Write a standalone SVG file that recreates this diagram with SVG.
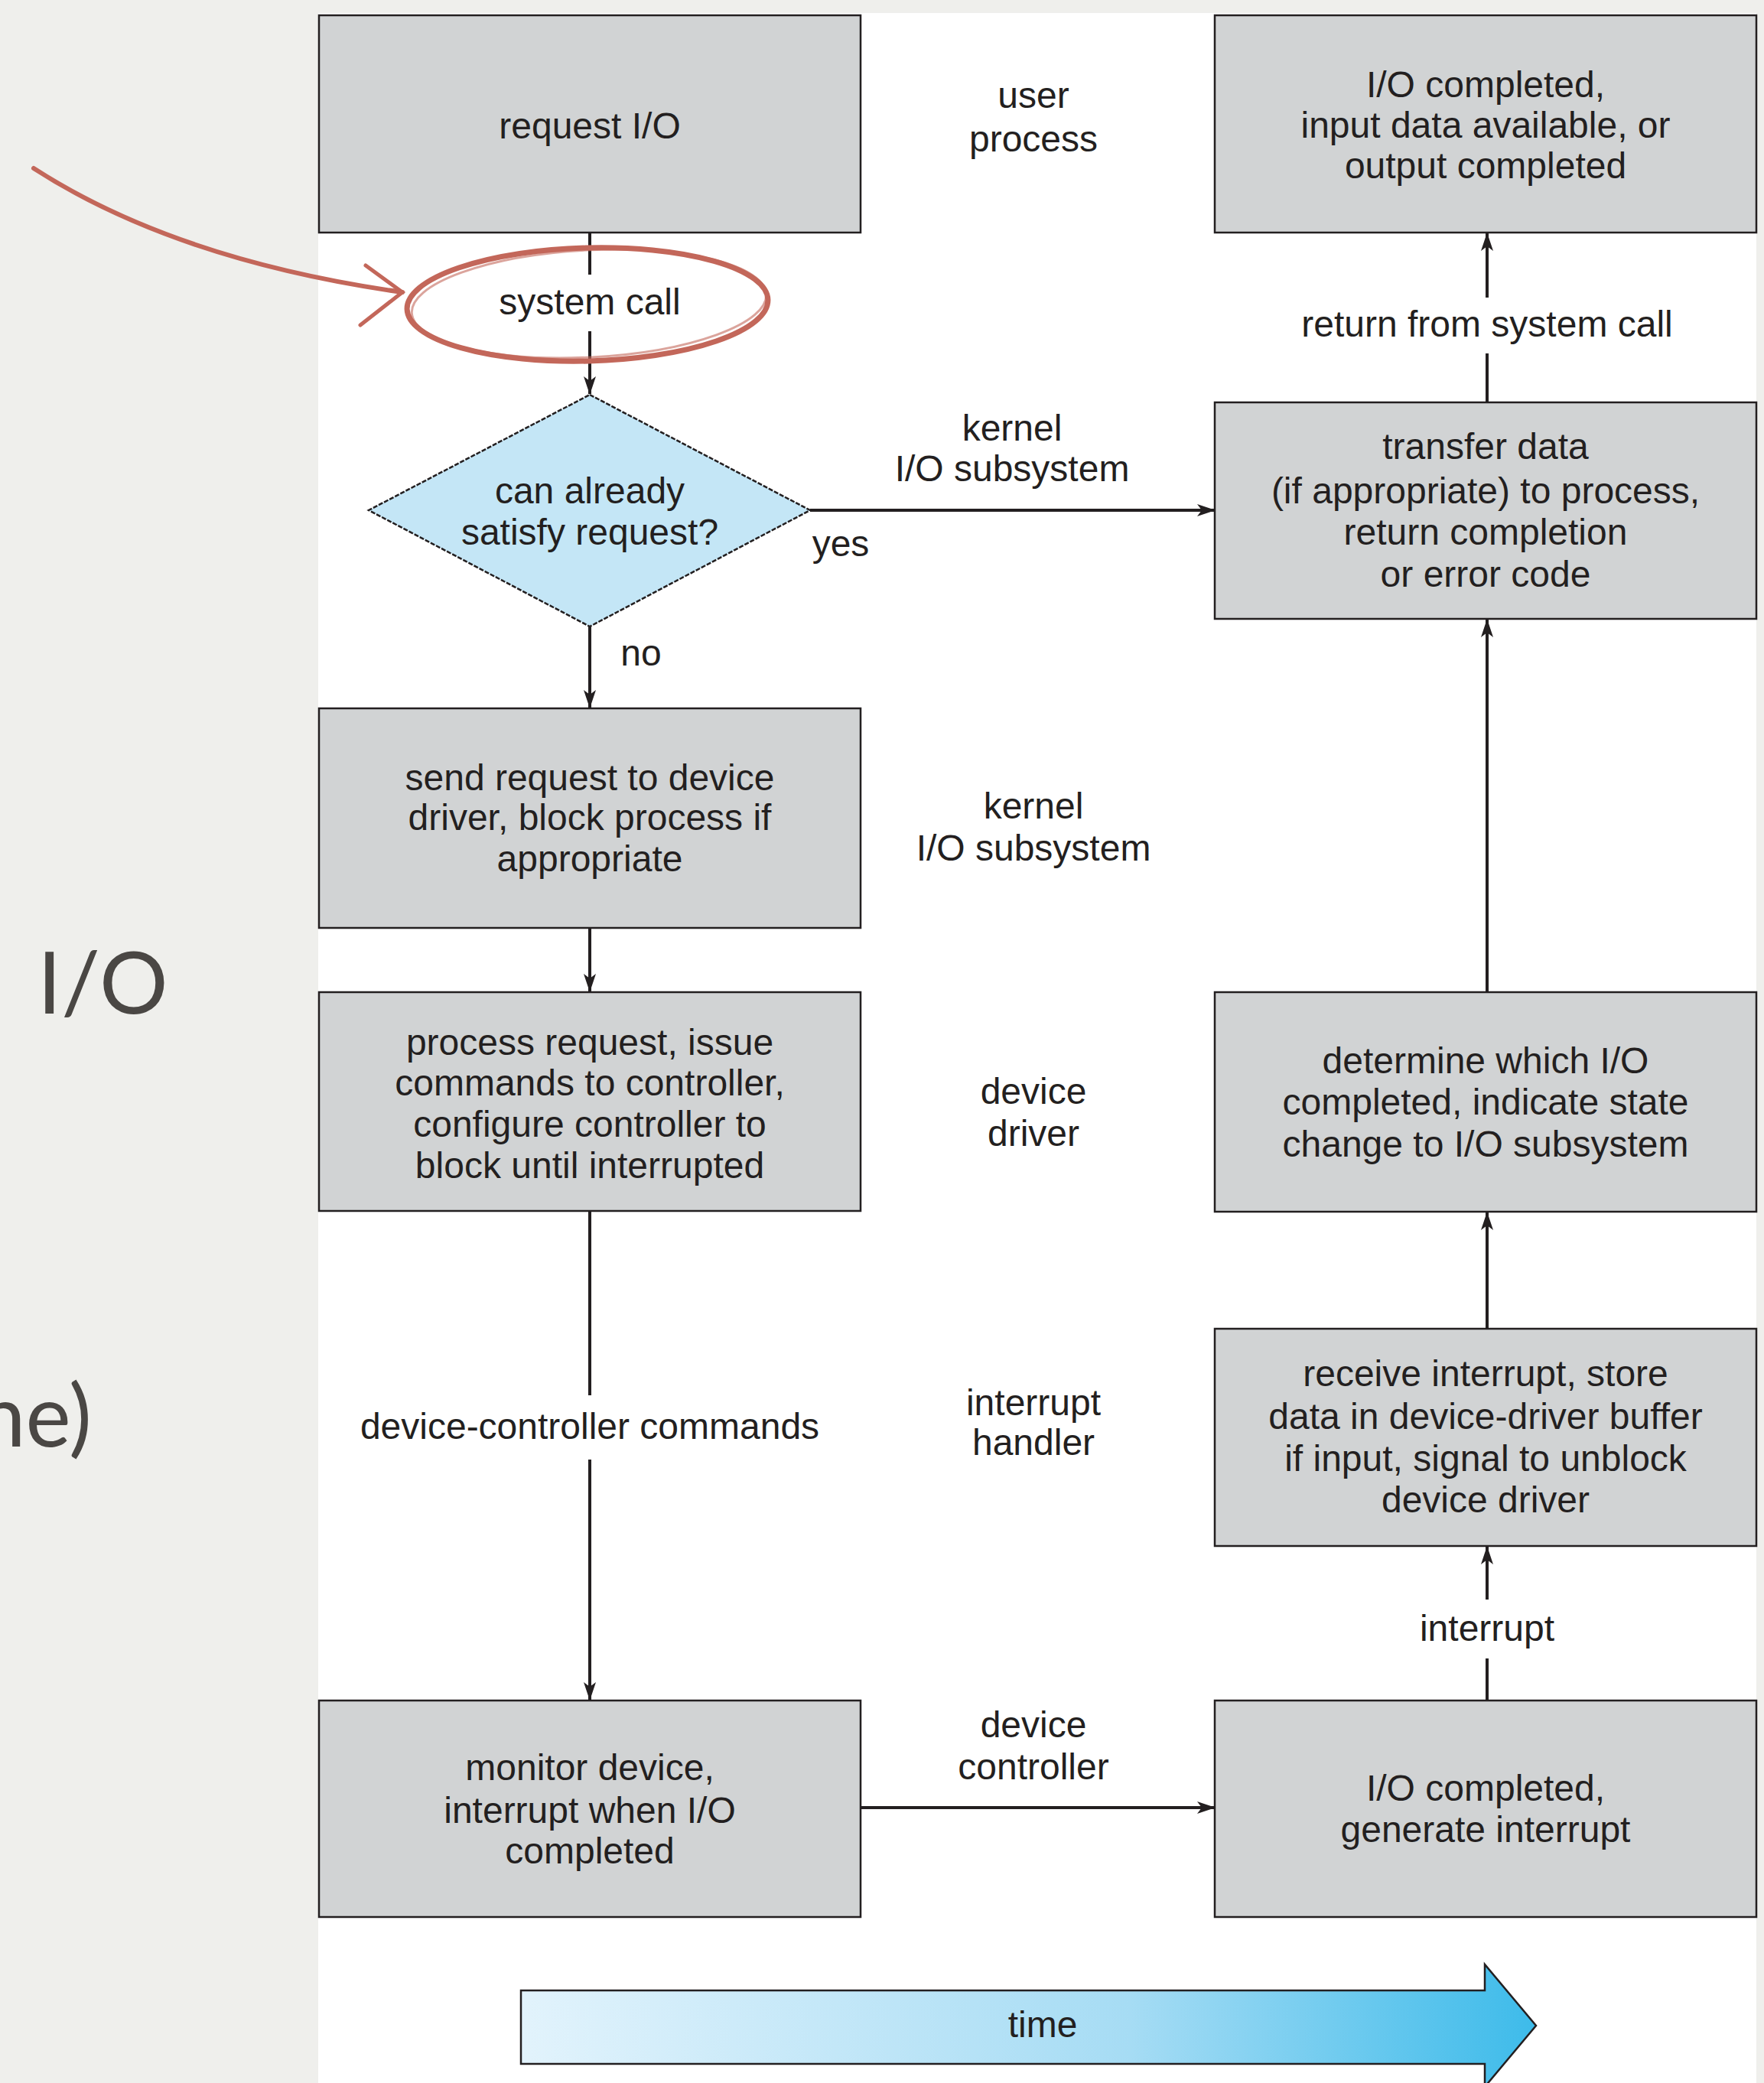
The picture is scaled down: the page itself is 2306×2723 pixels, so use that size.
<svg xmlns="http://www.w3.org/2000/svg" width="2306" height="2723" viewBox="0 0 2306 2723">
<defs>
<style>
.t{font-family:"Liberation Sans",Arial,sans-serif;font-size:48px;fill:#231f20;text-anchor:middle}
.box{fill:#d1d3d4;stroke:#231f20;stroke-width:2.5}
.ln{stroke:#231f20;stroke-width:4;fill:none}
.slide{font-family:Lato,"Noto Sans",sans-serif;font-size:112px;fill:#4a4744}
</style>
<marker id="ah" viewBox="0 0 24 18" refX="23" refY="9" markerWidth="24" markerHeight="18" markerUnits="userSpaceOnUse" orient="auto">
<path d="M0,1 L24,9 L0,17 L6,9 Z" fill="#231f20"/>
</marker>
<linearGradient id="tg" x1="0" y1="0" x2="1" y2="0">
<stop offset="0" stop-color="#e2f3fc"/>
<stop offset="0.6" stop-color="#a6dcf4"/>
<stop offset="1" stop-color="#3dbbea"/>
</linearGradient>
</defs>
<rect x="0" y="0" width="2306" height="2723" fill="#efefec"/>
<rect x="416" y="17" width="1880" height="2706" fill="#ffffff"/>
<text class="slide" x="49" y="1325">I/O</text>
<text class="slide" x="120" y="1891" text-anchor="end">ne)</text>

<g id="connectors">
<line class="ln" x1="771" y1="304" x2="771" y2="359"/>
<line class="ln" x1="771" y1="433" x2="771" y2="515" marker-end="url(#ah)"/>
<line class="ln" x1="1059" y1="667" x2="1588" y2="667" marker-end="url(#ah)"/>
<line class="ln" x1="1944" y1="526" x2="1944" y2="462"/>
<line class="ln" x1="1944" y1="389" x2="1944" y2="305" marker-end="url(#ah)"/>
<line class="ln" x1="771" y1="819" x2="771" y2="925" marker-end="url(#ah)"/>
<line class="ln" x1="771" y1="1213" x2="771" y2="1296" marker-end="url(#ah)"/>
<line class="ln" x1="771" y1="1583" x2="771" y2="1824"/>
<line class="ln" x1="771" y1="1908" x2="771" y2="2222" marker-end="url(#ah)"/>
<line class="ln" x1="1125" y1="2363" x2="1588" y2="2363" marker-end="url(#ah)"/>
<line class="ln" x1="1944" y1="2223" x2="1944" y2="2168"/>
<line class="ln" x1="1944" y1="2091" x2="1944" y2="2022" marker-end="url(#ah)"/>
<line class="ln" x1="1944" y1="1737" x2="1944" y2="1585" marker-end="url(#ah)"/>
<line class="ln" x1="1944" y1="1297" x2="1944" y2="810" marker-end="url(#ah)"/>
<text class="t" x="771" y="411">system call</text>
<text class="t" x="1944" y="440">return from system call</text>
<text class="t" x="1099" y="727">yes</text>
<text class="t" x="838" y="870">no</text>
<text class="t" x="771" y="1881">device-controller commands</text>
<text class="t" x="1944" y="2145">interrupt</text>
</g>

<g id="lane-labels">
<text class="t" x="1351" y="141">user</text>
<text class="t" x="1351" y="198">process</text>
<text class="t" x="1323" y="576">kernel</text>
<text class="t" x="1323" y="629">I/O subsystem</text>
<text class="t" x="1351" y="1070">kernel</text>
<text class="t" x="1351" y="1125">I/O subsystem</text>
<text class="t" x="1351" y="1443">device</text>
<text class="t" x="1351" y="1498">driver</text>
<text class="t" x="1351" y="1850">interrupt</text>
<text class="t" x="1351" y="1902">handler</text>
<text class="t" x="1351" y="2271">device</text>
<text class="t" x="1351" y="2326">controller</text>
</g>

<g id="request-io">
<rect class="box" x="417" y="20" width="708" height="284"/>
<text class="t" x="771" y="181">request I/O</text>
</g>
<g id="io-completed-user">
<rect class="box" x="1588" y="20" width="708" height="284"/>
<text class="t" x="1942" y="127">I/O completed,</text>
<text class="t" x="1942" y="180">input data available, or</text>
<text class="t" x="1942" y="233">output completed</text>
</g>
<g id="can-satisfy">
<polygon points="771,516 1059,667 771,819 482,667" fill="#c4e6f6" stroke="#231f20" stroke-width="2.5" stroke-dasharray="6 2"/>
<text class="t" x="771" y="658">can already</text>
<text class="t" x="771" y="712">satisfy request?</text>
</g>
<g id="transfer-data">
<rect class="box" x="1588" y="526" width="708" height="283"/>
<text class="t" x="1942" y="600">transfer data</text>
<text class="t" x="1942" y="658">(if appropriate) to process,</text>
<text class="t" x="1942" y="712">return completion</text>
<text class="t" x="1942" y="767">or error code</text>
</g>
<g id="send-request">
<rect class="box" x="417" y="926" width="708" height="287"/>
<text class="t" x="771" y="1033">send request to device</text>
<text class="t" x="771" y="1085">driver, block process if</text>
<text class="t" x="771" y="1139">appropriate</text>
</g>
<g id="process-request">
<rect class="box" x="417" y="1297" width="708" height="286"/>
<text class="t" x="771" y="1379">process request, issue</text>
<text class="t" x="771" y="1432">commands to controller,</text>
<text class="t" x="771" y="1486">configure controller to</text>
<text class="t" x="771" y="1540">block until interrupted</text>
</g>
<g id="determine-io">
<rect class="box" x="1588" y="1297" width="708" height="287"/>
<text class="t" x="1942" y="1403">determine which I/O</text>
<text class="t" x="1942" y="1457">completed, indicate state</text>
<text class="t" x="1942" y="1512">change to I/O subsystem</text>
</g>
<g id="receive-interrupt">
<rect class="box" x="1588" y="1737" width="708" height="284"/>
<text class="t" x="1942" y="1812">receive interrupt, store</text>
<text class="t" x="1942" y="1868">data in device-driver buffer</text>
<text class="t" x="1942" y="1923">if input, signal to unblock</text>
<text class="t" x="1942" y="1977">device driver</text>
</g>
<g id="monitor-device">
<rect class="box" x="417" y="2223" width="708" height="283"/>
<text class="t" x="771" y="2327">monitor device,</text>
<text class="t" x="771" y="2383">interrupt when I/O</text>
<text class="t" x="771" y="2436">completed</text>
</g>
<g id="io-completed-interrupt">
<rect class="box" x="1588" y="2223" width="708" height="283"/>
<text class="t" x="1942" y="2354">I/O completed,</text>
<text class="t" x="1942" y="2408">generate interrupt</text>
</g>
<g id="time-arrow">
<polygon points="681,2602 1941,2602 1941,2568 2008,2648 1941,2728 1941,2698 681,2698" fill="url(#tg)" stroke="#231f20" stroke-width="2.5"/>
<text class="t" x="1363" y="2663">time</text>
</g>
<g id="annotation" fill="none" stroke="#c3675a" stroke-linecap="round">
<ellipse cx="768" cy="398" rx="236" ry="74" stroke-width="7" transform="rotate(-1.5 768 398)"/>
<ellipse cx="770" cy="397" rx="232" ry="70" stroke-width="3" opacity="0.6" transform="rotate(-3 770 397)"/>
<path d="M44,220 Q230,340 526,382" stroke-width="6"/>
<path d="M478,347 L526,382 L471,425" stroke-width="5"/>
</g>
</svg>
